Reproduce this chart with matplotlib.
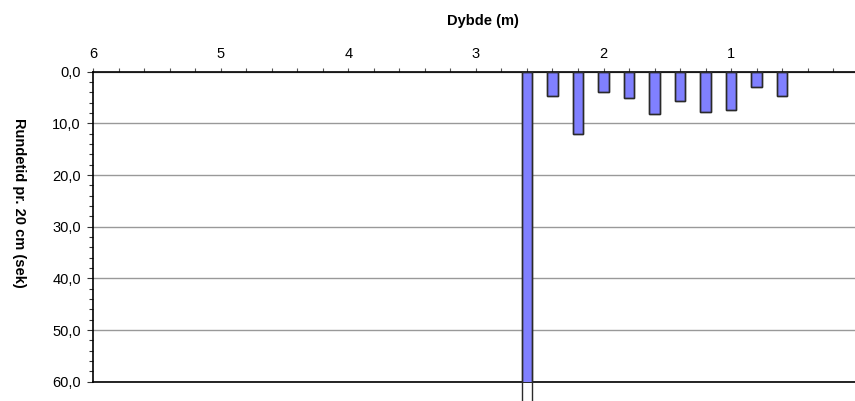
import matplotlib
matplotlib.use("Agg")
import matplotlib.pyplot as plt
from matplotlib.ticker import MultipleLocator, FuncFormatter

plt.rcParams['font.family'] = ['Liberation Sans', 'DejaVu Sans']

depths = [2.6, 2.4, 2.2, 2.0, 1.8, 1.6, 1.4, 1.2, 1.0, 0.8, 0.6]
times = [100.0, 4.8, 12.1, 4.0, 5.1, 8.2, 5.7, 7.8, 7.4, 2.9, 4.8]
x_label = "Dybde (m)"
y_label = "Rundetid pr. 20 cm (sek)"

fig = plt.figure(figsize=(8.55, 4.01), dpi=100)
ax = fig.add_axes([93.3/855, 1 - 381.7/401, (858.6 - 93.3)/855, (381.7 - 71.7)/401])

ax.set_xlim(6, 0)
ax.set_ylim(60, 0)

# filled bars (clipped at 60)
ax.bar(depths, times, width=0.08, color='#8080FF', edgecolor='#2a2a2a',
       linewidth=1.0, zorder=3)
# outline bars extending beyond the plot area
ax.bar(depths, times, width=0.08, fill=False, edgecolor='#2a2a2a',
       linewidth=1.0, zorder=3, clip_on=False)

ax.xaxis.set_ticks_position('top')
ax.xaxis.set_label_position('top')
ax.xaxis.set_major_locator(MultipleLocator(1))
ax.xaxis.set_minor_locator(MultipleLocator(0.2))
ax.xaxis.set_major_formatter(FuncFormatter(lambda v, p: f"{v:.0f}" if v > 0.5 else ""))
ax.tick_params(axis='x', which='major', direction='out', length=3, width=0.8,
               color='#555555', labelsize=10.5, pad=5)
ax.tick_params(axis='x', which='minor', direction='out', length=3, width=0.8,
               color='#555555')

ax.yaxis.set_major_locator(MultipleLocator(10))
ax.yaxis.set_minor_locator(MultipleLocator(2))
ax.yaxis.set_major_formatter(FuncFormatter(lambda v, p: f"{v:.1f}".replace('.', ',')))
ax.tick_params(axis='y', which='major', direction='out', length=4, width=0.8,
               color='#333333', labelsize=10.5, pad=5)
ax.tick_params(axis='y', which='minor', direction='out', length=3, width=0.8,
               color='#333333')

ax.grid(axis='y', which='major', color='#999999', linewidth=1.0, zorder=0)
ax.set_axisbelow(True)

for s in ['top', 'left', 'bottom']:
    ax.spines[s].set_color('black')
    ax.spines[s].set_linewidth(1.2)
ax.spines['right'].set_visible(False)

ax.set_xlabel(x_label, fontsize=10.5, fontweight='bold')
ax.xaxis.set_label_coords(0.509, 1.151)
ax.set_ylabel(y_label, fontsize=10.5, fontweight='bold', rotation=270, va='center')
ax.yaxis.set_label_coords(-0.097, 0.578)

fig.savefig("out.png", dpi=100)
